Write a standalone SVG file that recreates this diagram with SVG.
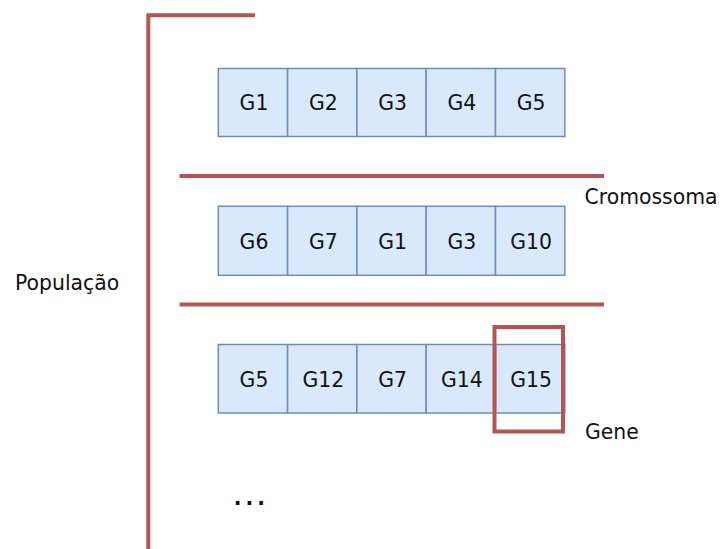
<svg xmlns="http://www.w3.org/2000/svg" width="720" height="549" viewBox="0 0 720 549">
  <style>
    .cell { fill: #dae8fc; stroke: #6c8ebf; stroke-width: 1.5; }
    .bar { stroke: #b85450; stroke-width: 4; fill: none; }
    .lbl { font-family: "DejaVu Sans", Verdana, sans-serif; font-size: 20.4px; fill: #111111; }
    .g { text-anchor: middle; }
  </style>
  <rect width="720" height="549" fill="#ffffff"/>

  <!-- population bracket and chromosome separators -->
  <g id="connectors">
    <path class="bar" d="M255,15.3 H148.3 V549"/>
    <line class="bar" x1="179.5" y1="176" x2="604" y2="176"/>
    <line class="bar" x1="179.5" y1="304.5" x2="604" y2="304.5"/>
  </g>

  <!-- chromosome 1 -->
  <g id="chromosome1">
    <rect class="cell" x="218.3" y="68.5" width="69.3" height="68"/>
    <rect class="cell" x="287.6" y="68.5" width="69.3" height="68"/>
    <rect class="cell" x="356.9" y="68.5" width="69.3" height="68"/>
    <rect class="cell" x="426.2" y="68.5" width="69.3" height="68"/>
    <rect class="cell" x="495.5" y="68.5" width="69.3" height="68"/>
    <text class="lbl g" x="254" y="110">G1</text>
    <text class="lbl g" x="323.3" y="110">G2</text>
    <text class="lbl g" x="392.6" y="110">G3</text>
    <text class="lbl g" x="461.9" y="110">G4</text>
    <text class="lbl g" x="531.2" y="110">G5</text>
  </g>

  <!-- chromosome 2 -->
  <g id="chromosome2">
    <rect class="cell" x="218.3" y="206.3" width="69.3" height="69"/>
    <rect class="cell" x="287.6" y="206.3" width="69.3" height="69"/>
    <rect class="cell" x="356.9" y="206.3" width="69.3" height="69"/>
    <rect class="cell" x="426.2" y="206.3" width="69.3" height="69"/>
    <rect class="cell" x="495.5" y="206.3" width="69.3" height="69"/>
    <text class="lbl g" x="254" y="248.5">G6</text>
    <text class="lbl g" x="323.3" y="248.5">G7</text>
    <text class="lbl g" x="392.6" y="248.5">G1</text>
    <text class="lbl g" x="461.9" y="248.5">G3</text>
    <text class="lbl g" x="531.2" y="248.5">G10</text>
  </g>

  <!-- chromosome 3 -->
  <g id="chromosome3">
    <rect class="cell" x="218.3" y="344.5" width="69.3" height="68.5"/>
    <rect class="cell" x="287.6" y="344.5" width="69.3" height="68.5"/>
    <rect class="cell" x="356.9" y="344.5" width="69.3" height="68.5"/>
    <rect class="cell" x="426.2" y="344.5" width="69.3" height="68.5"/>
    <rect class="cell" x="495.5" y="344.5" width="69.3" height="68.5"/>
    <text class="lbl g" x="254" y="386.5">G5</text>
    <text class="lbl g" x="323.3" y="386.5">G12</text>
    <text class="lbl g" x="392.6" y="386.5">G7</text>
    <text class="lbl g" x="461.9" y="386.5">G14</text>
    <text class="lbl g" x="531.2" y="386.5">G15</text>
  </g>

  <!-- gene highlight -->
  <g id="gene-highlight">
    <rect class="bar" x="494.5" y="327" width="68.5" height="104.5"/>
  </g>

  <!-- labels -->
  <g id="labels">
    <text class="lbl" x="584.5" y="204">Cromossoma</text>
    <text class="lbl" x="585" y="438.5">Gene</text>
    <text class="lbl" x="15" y="290">População</text>
    <text class="lbl" x="233.8" y="505" font-size="22" font-weight="bold" letter-spacing="4">...</text>
  </g>
</svg>
